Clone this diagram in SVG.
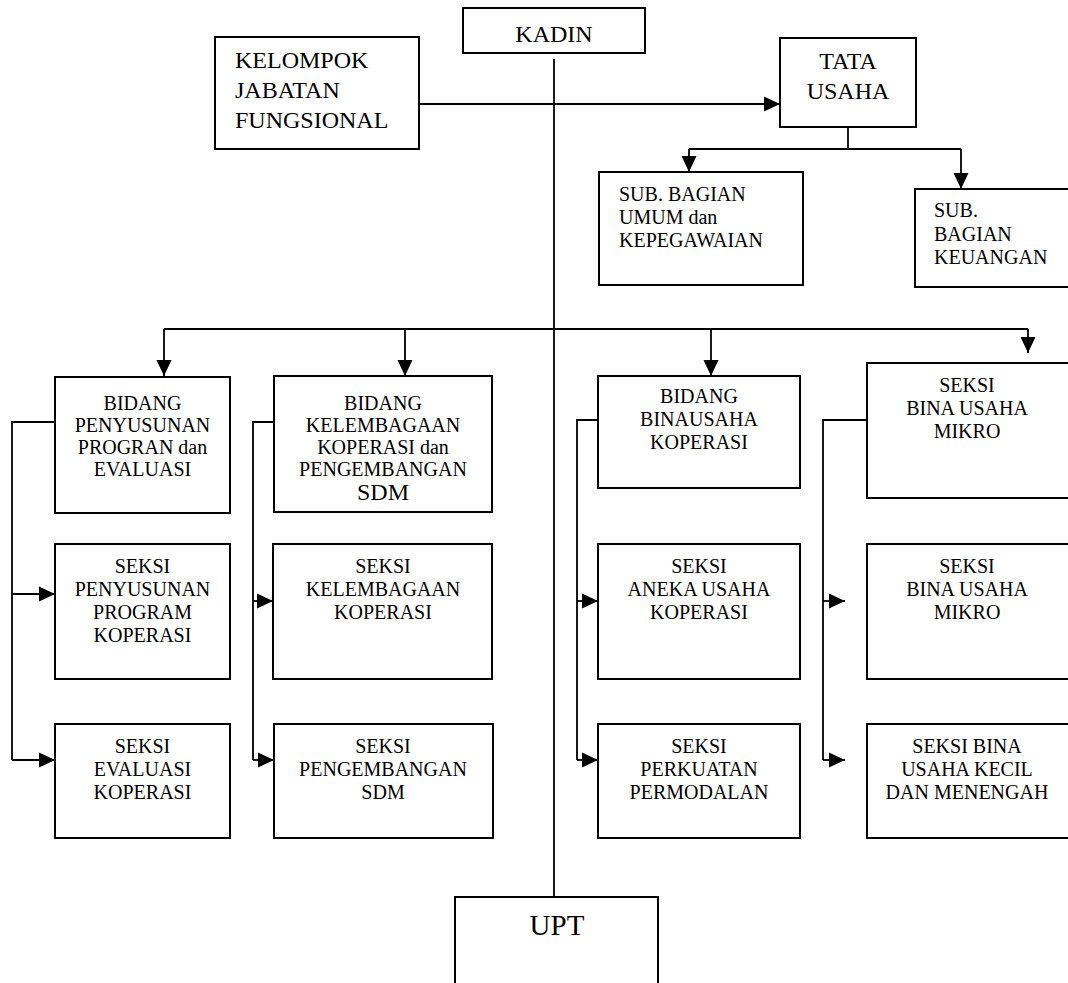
<svg xmlns="http://www.w3.org/2000/svg" width="1068" height="983" viewBox="0 0 1068 983">
<style>
.box{fill:#fff;stroke:#000;stroke-width:2}
.ln{fill:none;stroke:#000;stroke-width:1.8}
text{font-family:'Liberation Serif','DejaVu Serif','Noto Serif',serif;fill:#000}
.c{text-anchor:middle}
.f24{font-size:24px}
.f20{font-size:20px}
</style>
<defs>
<marker id="ah" markerUnits="userSpaceOnUse" markerWidth="16" markerHeight="16" viewBox="0 0 15 14" refX="15" refY="7" orient="auto">
<path d="M0,0 L15,7 L0,14 Z" fill="#000"/>
</marker>
</defs>
<rect width="1068" height="983" fill="#fff"/>
<g id="connectors">
<path class="ln" d="M554,59 V897"/>
<path class="ln" d="M419,104 H780" marker-end="url(#ah)"/>
<path class="ln" d="M848,127 V149"/>
<path class="ln" d="M689,149 H961"/>
<path class="ln" d="M689,149 V172" marker-end="url(#ah)"/>
<path class="ln" d="M961,149 V189" marker-end="url(#ah)"/>
<path class="ln" d="M164,329 H1028"/>
<path class="ln" d="M164,329 V376" marker-end="url(#ah)"/>
<path class="ln" d="M405,329 V376" marker-end="url(#ah)"/>
<path class="ln" d="M711,329 V376" marker-end="url(#ah)"/>
<path class="ln" d="M1028,329 V353" marker-end="url(#ah)"/>
<path class="ln" d="M55,422 H12 V760"/>
<path class="ln" d="M12,594 H55" marker-end="url(#ah)"/>
<path class="ln" d="M12,760 H55" marker-end="url(#ah)"/>
<path class="ln" d="M274,422 H253 V760"/>
<path class="ln" d="M253,601 H273" marker-end="url(#ah)"/>
<path class="ln" d="M253,760 H274" marker-end="url(#ah)"/>
<path class="ln" d="M598,420 H577 V760"/>
<path class="ln" d="M577,601 H598" marker-end="url(#ah)"/>
<path class="ln" d="M577,760 H598" marker-end="url(#ah)"/>
<path class="ln" d="M867,420 H823 V760"/>
<path class="ln" d="M823,601 H845" marker-end="url(#ah)"/>
<path class="ln" d="M823,760 H845" marker-end="url(#ah)"/>
</g>
<g id="kadin">
<rect class="box" x="463" y="8" width="182" height="45"/>
<text class="c f24" x="554" y="42">KADIN</text>
</g>
<g id="kelompok">
<rect class="box" x="215" y="37" width="204" height="112"/>
<text class="f24" x="235" y="68">KELOMPOK</text>
<text class="f24" x="235" y="98">JABATAN</text>
<text class="f24" x="235" y="128">FUNGSIONAL</text>
</g>
<g id="tatausaha">
<rect class="box" x="780" y="38" width="136" height="89"/>
<text class="c f24" x="848" y="69">TATA</text>
<text class="c f24" x="848" y="99">USAHA</text>
</g>
<g id="subumum">
<rect class="box" x="599" y="172" width="204" height="113"/>
<text class="f20" x="619" y="201">SUB. BAGIAN</text>
<text class="f20" x="619" y="224">UMUM dan</text>
<text class="f20" x="619" y="247">KEPEGAWAIAN</text>
</g>
<g id="subkeuangan">
<rect class="box" x="915" y="189" width="160" height="98"/>
<text class="f20" x="934" y="217">SUB.</text>
<text class="f20" x="934" y="241">BAGIAN</text>
<text class="f20" x="934" y="264">KEUANGAN</text>
</g>
<g id="bidang-penyusunan">
<rect class="box" x="55" y="377" width="175" height="136"/>
<text class="c f20" x="142.5" y="410">BIDANG</text>
<text class="c f20" x="142.5" y="432">PENYUSUNAN</text>
<text class="c f20" x="142.5" y="454">PROGRAN dan</text>
<text class="c f20" x="142.5" y="476">EVALUASI</text>
</g>
<g id="bidang-kelembagaan">
<rect class="box" x="274" y="376" width="218" height="136"/>
<text class="c f20" x="383" y="410">BIDANG</text>
<text class="c f20" x="383" y="432">KELEMBAGAAN</text>
<text class="c f20" x="383" y="454">KOPERASI dan</text>
<text class="c f20" x="383" y="476">PENGEMBANGAN</text>
<text class="c f24" x="383" y="500">SDM</text>
</g>
<g id="bidang-binausaha">
<rect class="box" x="598" y="376" width="202" height="112"/>
<text class="c f20" x="699" y="403">BIDANG</text>
<text class="c f20" x="699" y="426">BINAUSAHA</text>
<text class="c f20" x="699" y="449">KOPERASI</text>
</g>
<g id="seksi-mikro-top">
<rect class="box" x="867" y="363" width="210" height="135"/>
<text class="c f20" x="967" y="392">SEKSI</text>
<text class="c f20" x="967" y="415">BINA USAHA</text>
<text class="c f20" x="967" y="438">MIKRO</text>
</g>
<g id="seksi-penyusunan">
<rect class="box" x="55" y="544" width="175" height="135"/>
<text class="c f20" x="142.5" y="573">SEKSI</text>
<text class="c f20" x="142.5" y="596">PENYUSUNAN</text>
<text class="c f20" x="142.5" y="619">PROGRAM</text>
<text class="c f20" x="142.5" y="642">KOPERASI</text>
</g>
<g id="seksi-kelembagaan">
<rect class="box" x="273" y="544" width="219" height="135"/>
<text class="c f20" x="383" y="573">SEKSI</text>
<text class="c f20" x="383" y="596">KELEMBAGAAN</text>
<text class="c f20" x="383" y="619">KOPERASI</text>
</g>
<g id="seksi-aneka">
<rect class="box" x="598" y="544" width="202" height="135"/>
<text class="c f20" x="699" y="573">SEKSI</text>
<text class="c f20" x="699" y="596">ANEKA USAHA</text>
<text class="c f20" x="699" y="619">KOPERASI</text>
</g>
<g id="seksi-mikro">
<rect class="box" x="867" y="544" width="210" height="135"/>
<text class="c f20" x="967" y="573">SEKSI</text>
<text class="c f20" x="967" y="596">BINA USAHA</text>
<text class="c f20" x="967" y="619">MIKRO</text>
</g>
<g id="seksi-evaluasi">
<rect class="box" x="55" y="724" width="175" height="114"/>
<text class="c f20" x="142.5" y="753">SEKSI</text>
<text class="c f20" x="142.5" y="776">EVALUASI</text>
<text class="c f20" x="142.5" y="799">KOPERASI</text>
</g>
<g id="seksi-pengembangan">
<rect class="box" x="274" y="724" width="219" height="114"/>
<text class="c f20" x="383" y="753">SEKSI</text>
<text class="c f20" x="383" y="776">PENGEMBANGAN</text>
<text class="c f20" x="383" y="799">SDM</text>
</g>
<g id="seksi-perkuatan">
<rect class="box" x="598" y="724" width="202" height="114"/>
<text class="c f20" x="699" y="753">SEKSI</text>
<text class="c f20" x="699" y="776">PERKUATAN</text>
<text class="c f20" x="699" y="799">PERMODALAN</text>
</g>
<g id="seksi-kecil-menengah">
<rect class="box" x="867" y="724" width="210" height="114"/>
<text class="c f20" x="967" y="753">SEKSI BINA</text>
<text class="c f20" x="967" y="776">USAHA KECIL</text>
<text class="c f20" x="967" y="799">DAN MENENGAH</text>
</g>
<g id="upt">
<rect class="box" x="455" y="897" width="203" height="100"/>
<text class="c" style="font-size:29px" x="557" y="935">UPT</text>
</g>
</svg>
